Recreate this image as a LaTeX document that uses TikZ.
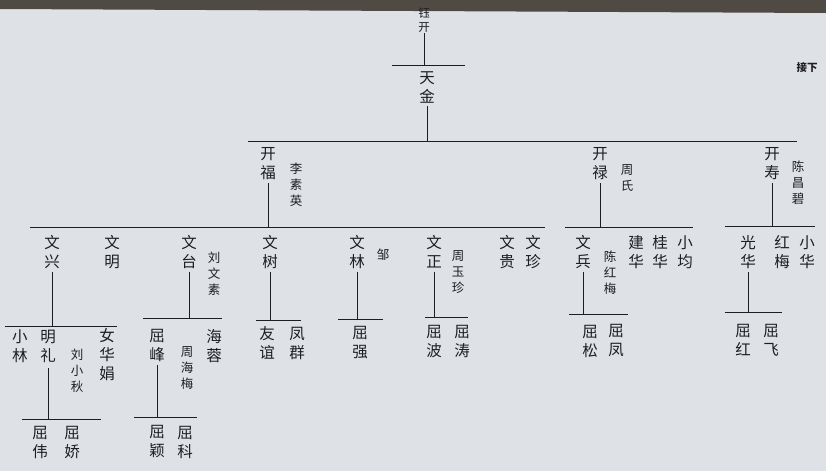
\documentclass[tikz,border=0pt]{standalone}
\usepackage{fontspec}
\newfontfamily\cjk{Noto Sans CJK SC}
\definecolor{paper}{RGB}{222,225,229}
\definecolor{ink}{RGB}{30,30,34}
\definecolor{edge}{RGB}{80,74,68}
\begin{document}
\begin{tikzpicture}[x=1pt,y=-1pt,
    person/.style={text=ink, align=center, inner sep=3pt, font=\fontsize{15.5}{19}\cjk},
    spouse/.style={text=ink, align=center, inner sep=2pt, font=\fontsize{12.5}{16}\cjk},
    link/.style={draw=ink, line width=0.8pt}]

    % Page and photo edge
    \fill[paper] (0,0) rectangle (826,471);
    \fill[edge] (0,0) -- (826,0) -- (826,13) -- (0,9) -- cycle;
    \useasboundingbox (0,0) rectangle (826,471);

    % Generation 1 and 2
    \node[person, font=\fontsize{11.5}{13.5}\cjk, inner sep=1pt] (yukai) at (424,20) {钰\\开};
    \node[person] (tianjin) at (427,87) {天\\金};
    \node[text=ink, font=\fontsize{10.5}{12}\cjk\bfseries] (jiexia) at (807,68) {接下};

    % Generation 3
    \node[person] (kaifu) at (268,164) {开\\福};
    \node[spouse] (lisuying) at (296,185) {李\\素\\英};
    \node[person] (kailu) at (600,164) {开\\禄};
    \node[spouse] (zhoushi) at (627,178) {周\\氏};
    \node[person] (kaishou) at (772,164) {开\\寿};
    \node[spouse] (chenchangbi) at (798,183) {陈\\昌\\碧};

    % Generation 4
    \node[person] (wenxing) at (52,252) {文\\兴};
    \node[person] (wenming) at (112,252) {文\\明};
    \node[person] (wentai) at (189,252) {文\\台};
    \node[spouse] (liuwensu) at (214,274) {刘\\文\\素};
    \node[person] (wenshu) at (270,252) {文\\树};
    \node[person] (wenlin) at (357,252) {文\\林};
    \node[spouse] (zou) at (383,255) {邹};
    \node[person] (wenzheng) at (434,252) {文\\正};
    \node[spouse] (zhouyuzhen) at (458,272) {周\\玉\\珍};
    \node[person] (wengui) at (507,252) {文\\贵};
    \node[person] (wenzhen) at (533,252) {文\\珍};
    \node[person] (wenbing) at (583,252) {文\\兵};
    \node[spouse] (chenhongmei) at (610,273) {陈\\红\\梅};
    \node[person] (jianhua) at (636,252) {建\\华};
    \node[person] (guihua) at (660,252) {桂\\华};
    \node[person] (xiaojun) at (685,252) {小\\均};
    \node[person] (guanghua) at (748,252) {光\\华};
    \node[person] (hongmei) at (782,252) {红\\梅};
    \node[person] (xiaohua) at (807,252) {小\\华};

    % Generation 5
    \node[person] (xiaolin) at (20,346) {小\\林};
    \node[person, inner sep=6pt] (mingli) at (48,346) {明\\礼};
    \node[spouse] (liuxiaoqiu) at (77,371) {刘\\小\\秋};
    \node[person] (nvhuajuan) at (107,355) {女\\华\\娟};
    \node[person] (qufeng) at (157,346) {屈\\峰};
    \node[spouse] (zhouhaimei) at (187,368) {周\\海\\梅};
    \node[person] (hairong) at (214,346) {海\\蓉};
    \node[person] (youyi) at (267,343) {友\\谊};
    \node[person] (fengqun) at (297,343) {凤\\群};
    \node[person] (quqiang) at (360,343) {屈\\强};
    \node[person] (qubo) at (434,342) {屈\\波};
    \node[person] (qutao) at (462,342) {屈\\涛};
    \node[person] (qusong) at (590,341) {屈\\松};
    \node[person] (qufengb) at (616,341) {屈\\凤};
    \node[person] (quhong) at (743,340) {屈\\红};
    \node[person] (qufei) at (771,340) {屈\\飞};

    % Generation 6
    \node[person] (quwei) at (40,443) {屈\\伟};
    \node[person] (qujiao) at (72,443) {屈\\娇};
    \node[person] (quying) at (157,442) {屈\\颖};
    \node[person] (quke) at (185,442) {屈\\科};

    % Sibling bars
    \coordinate (barA-l) at (392,65);  \coordinate (barA-r) at (465,65);
    \coordinate (barB-l) at (248,141); \coordinate (barB-r) at (797,141);
    \coordinate (barC-l) at (30,227);  \coordinate (barC-r) at (545,227);
    \coordinate (barD-l) at (565,227); \coordinate (barD-r) at (693,227);
    \coordinate (barE-l) at (725,226); \coordinate (barE-r) at (815,226);
    \coordinate (barF-l) at (5,326);   \coordinate (barF-r) at (117,326);
    \coordinate (barG-l) at (143,318); \coordinate (barG-r) at (222,318);
    \coordinate (barH-l) at (256,320); \coordinate (barH-r) at (301,320);
    \coordinate (barI-l) at (338,319); \coordinate (barI-r) at (383,319);
    \coordinate (barJ-l) at (425,317); \coordinate (barJ-r) at (468,317);
    \coordinate (barK-l) at (569,314); \coordinate (barK-r) at (628,314);
    \coordinate (barL-l) at (725,312); \coordinate (barL-r) at (782,312);
    \coordinate (barM-l) at (22,419);  \coordinate (barM-r) at (101,419);
    \coordinate (barN-l) at (134,417); \coordinate (barN-r) at (197,417);
    \foreach \b in {A,B,C,D,E,F,G,H,I,J,K,L,M,N}
        \draw[link] (bar\b-l) -- (bar\b-r);

    % Parent to children
    \draw[link] (yukai.south) -- (yukai.south |- barA-l);
    \draw[link] (tianjin.south) -- (tianjin.south |- barB-l);
    \draw[link] (kaifu.south) -- (kaifu.south |- barC-l);
    \draw[link] (kailu.south) -- (kailu.south |- barD-l);
    \draw[link] (kaishou.south) -- (kaishou.south |- barE-l);
    \draw[link] (wenxing.south) -- (wenxing.south |- barF-l);
    \draw[link] (wentai.south) -- (wentai.south |- barG-l);
    \draw[link] (wenshu.south) -- (wenshu.south |- barH-l);
    \draw[link] (wenlin.south) -- (wenlin.south |- barI-l);
    \draw[link] (wenzheng.south) -- (wenzheng.south |- barJ-l);
    \draw[link] (wenbing.south) -- (wenbing.south |- barK-l);
    \draw[link] (guanghua.south) -- (guanghua.south |- barL-l);
    \draw[link] (mingli.south) -- (mingli.south |- barM-l);
    \draw[link] (qufeng.south) -- (qufeng.south |- barN-l);

\end{tikzpicture}
\end{document}
